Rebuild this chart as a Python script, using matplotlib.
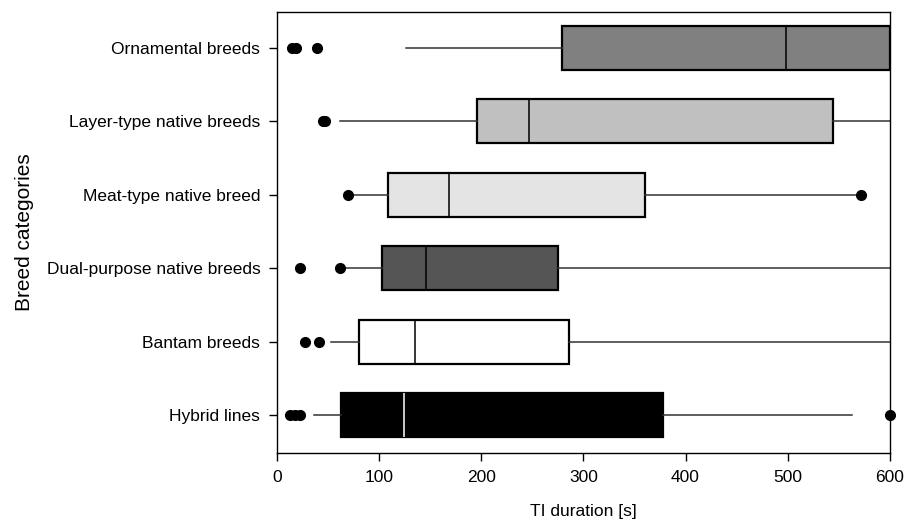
import matplotlib
matplotlib.use("Agg")
import matplotlib.pyplot as plt

plt.rcParams['font.family'] = ['Liberation Sans', 'DejaVu Sans']

# breed categories, bottom to top
categories = ["Hybrid lines", "Bantam breeds", "Dual-purpose native breeds",
              "Meat-type native breed", "Layer-type native breeds", "Ornamental breeds"]

# box statistics (TI duration, s)
whisker_low = [36, 53, 67, 72, 62, 126]
q1 = [63, 80, 103, 109, 196, 279]
median = [124, 135, 146, 168, 247, 498]
q3 = [378, 286, 275, 360, 544, 600]
whisker_high = [563, 600, 600, 572, 600, 600]
outliers = [[13, 18, 23, 600], [27, 41], [23, 62], [70, 572], [45, 47], [15, 19, 39]]

box_colors = ["#000000", "#ffffff", "#555555", "#e4e4e4", "#c0c0c0", "#808080"]
median_colors = ["#ffffff", "#000000", "#000000", "#000000", "#000000", "#000000"]

stats = []
for i in range(len(categories)):
    stats.append(dict(label=categories[i], whislo=whisker_low[i], q1=q1[i],
                      med=median[i], q3=q3[i], whishi=whisker_high[i],
                      fliers=outliers[i]))

fig = plt.figure(figsize=(9.08, 5.22), dpi=100)
ax = fig.add_axes([0.305, 0.132, 0.675, 0.845])

bp = ax.bxp(
    stats,
    positions=range(len(categories)),
    vert=False,
    widths=0.6,
    patch_artist=True,
    showcaps=False,
    boxprops=dict(linewidth=1.6, edgecolor='black'),
    whiskerprops=dict(linewidth=1.1, color='#333333'),
    medianprops=dict(linewidth=1.1),
    flierprops=dict(marker='o', markerfacecolor='black', markeredgecolor='black',
                    markersize=7),
)

for box, color in zip(bp['boxes'], box_colors):
    box.set_facecolor(color)
for med, color in zip(bp['medians'], median_colors):
    med.set_color(color)
for fl in bp['fliers']:
    fl.set_clip_on(False)

ax.set_xlim(0, 600)
ax.set_ylim(-0.52, 5.49)
ax.set_xticks(range(0, 601, 100))
ax.set_yticks(range(len(categories)))
ax.set_yticklabels(categories)

ax.tick_params(axis='both', direction='out', length=6, width=1, labelsize=12.5, pad=6)
for spine in ax.spines.values():
    spine.set_linewidth(1.0)

ax.set_xlabel("TI duration [s]", fontsize=12.5, labelpad=14)
ax.set_ylabel("Breed categories", fontsize=15, labelpad=9)

fig.savefig("out.png", dpi=100)
